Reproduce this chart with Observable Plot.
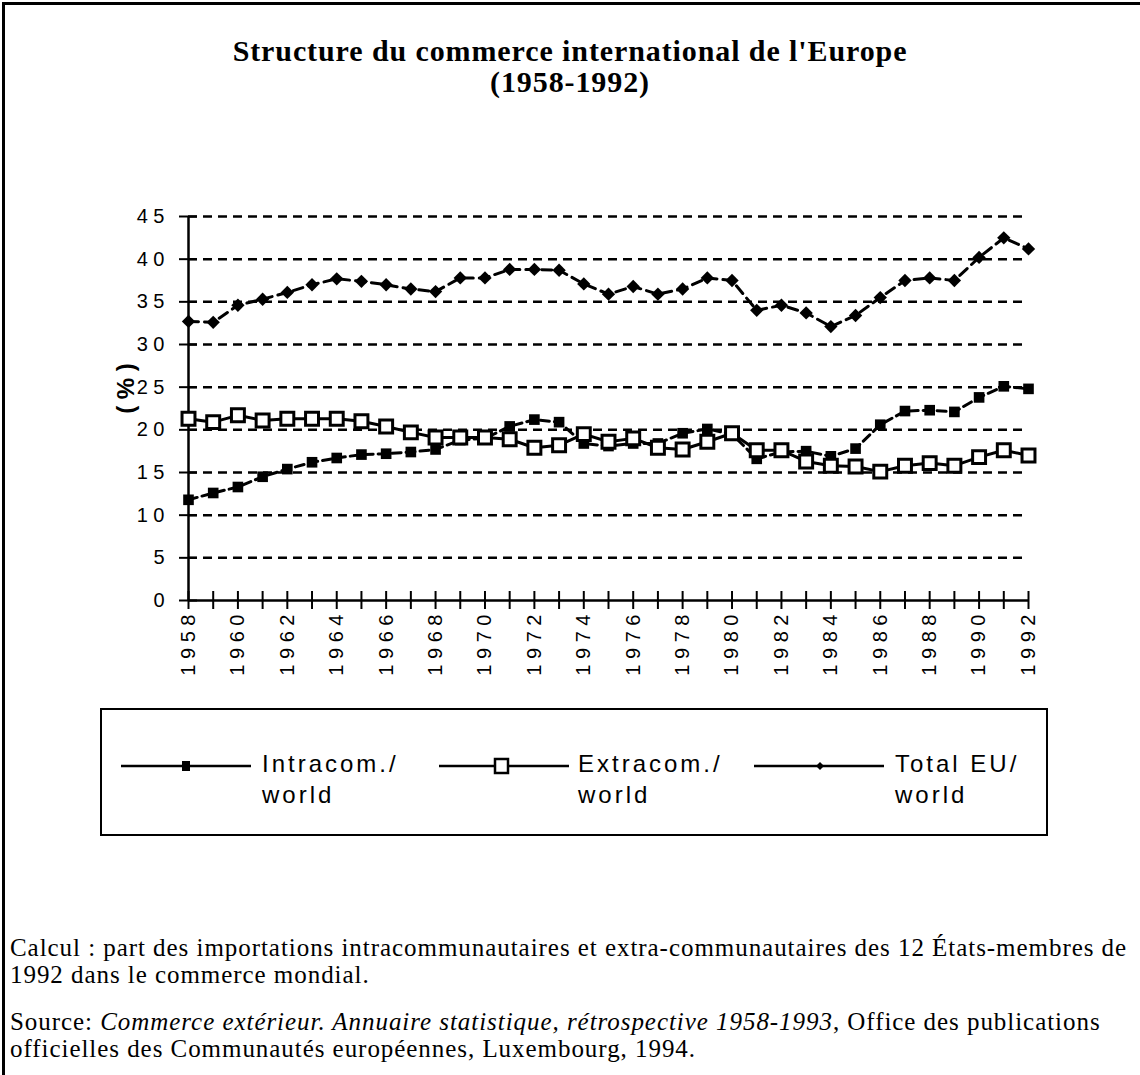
<!DOCTYPE html>
<html><head><meta charset="utf-8">
<script src="https://cdn.jsdelivr.net/npm/d3@7"></script>
<script src="https://cdn.jsdelivr.net/npm/@observablehq/plot@0.6"></script>
<style>
html,body{margin:0;padding:0;background:#fff;}
#page{position:relative;width:1140px;height:1075px;overflow:hidden;background:#fff;}
#frame{position:absolute;left:2px;top:2px;width:1300px;height:1300px;border-top:3px solid #000;border-left:3px solid #000;z-index:5;pointer-events:none;}
#title{position:absolute;left:0;top:35px;width:1140px;text-align:center;font:bold 30px/31px "Liberation Serif","Times New Roman",serif;letter-spacing:0.9px;color:#000;}
#chart{position:absolute;left:0;top:150px;}
#legend{position:absolute;left:100px;top:708px;width:948px;height:128px;border:2.5px solid #000;box-sizing:border-box;}
.lg{position:absolute;top:0;font:24px/31px "Liberation Sans",Arial,sans-serif;letter-spacing:3px;color:#000;}
.caption{position:absolute;left:10px;font:25px/27px "Liberation Serif","Times New Roman",serif;letter-spacing:0.95px;white-space:nowrap;color:#000;}
</style></head>
<body>
<div id="page">
  <div id="frame"></div>
  <div id="title">Structure du commerce international de l'Europe<br>(1958-1992)</div>
  <div id="chart"></div>
  <div id="legend"></div>
  <div class="caption" style="top:934px">Calcul : part des importations intracommunautaires et extra-communautaires des 12 États-membres de<br>1992 dans le commerce mondial.</div>
  <div class="caption" style="top:1008px">Source: <i>Commerce extérieur. Annuaire statistique, rétrospective 1958-1993</i>, Office des publications<br>officielles des Communautés européennes, Luxembourg, 1994.</div>
</div>
<script>
const years = [1958,1959,1960,1961,1962,1963,1964,1965,1966,1967,1968,1969,1970,1971,1972,1973,1974,1975,1976,1977,1978,1979,1980,1981,1982,1983,1984,1985,1986,1987,1988,1989,1990,1991,1992];
const labelYears = [1958,1960,1962,1964,1966,1968,1970,1972,1974,1976,1978,1980,1982,1984,1986,1988,1990,1992];
const yTicks = [0,5,10,15,20,25,30,35,40,45];

const intra = [11.8,12.6,13.3,14.5,15.4,16.2,16.7,17.1,17.2,17.4,17.7,18.8,19.0,20.4,21.2,20.9,18.4,18.1,18.4,18.4,19.6,20.1,19.5,16.6,17.4,17.5,16.9,17.8,20.6,22.2,22.3,22.1,23.8,25.1,24.8];
const extra = [21.3,20.9,21.7,21.1,21.3,21.3,21.3,21.0,20.4,19.7,19.1,19.1,19.1,18.9,17.9,18.2,19.5,18.6,19.0,17.9,17.7,18.6,19.6,17.6,17.6,16.3,15.8,15.7,15.1,15.8,16.1,15.8,16.8,17.6,17.0];
const total = [32.7,32.6,34.6,35.3,36.1,37.0,37.7,37.4,37.0,36.5,36.2,37.8,37.8,38.8,38.8,38.7,37.1,35.9,36.8,35.9,36.5,37.8,37.5,34.0,34.6,33.7,32.1,33.4,35.5,37.5,37.8,37.5,40.2,42.5,41.2];

const seriesNames = ["Intracom./ world","Extracom./ world","Total EU/ world"];
const legendLines = [["Intracom./","world"],["Extracom./","world"],["Total EU/","world"]];
const yTitle = "( % )";

const rows = (vals, s) => years.map((yr, i) => ({year: yr, value: vals[i], series: s}));
const intraRows = rows(intra, seriesNames[0]);
const extraRows = rows(extra, seriesNames[1]);
const totalRows = rows(total, seriesNames[2]);
const spaced = d => String(d).split("").join(" ");

const chart = Plot.plot({
  width: 1140, height: 550,
  marginLeft: 188, marginRight: 112, marginTop: 66, marginBottom: 100,
  x: {domain: [1958, 1992], axis: null, label: null},
  y: {domain: [0, 45], axis: null, label: null},
  style: {fontFamily: '"Liberation Sans", Arial, sans-serif', color: "#000", background: "transparent", overflow: "visible"},
  marks: [
    Plot.ruleY(yTicks.filter(d => d > 0), {stroke: "#000", strokeWidth: 2.5, strokeDasharray: "9,6"}),
    Plot.ruleX([years[0]], {stroke: "#000", strokeWidth: 2.5}),
    Plot.ruleY([0], {stroke: "#000", strokeWidth: 2.5}),
    Plot.axisY({ticks: yTicks, tickSize: 18, dx: 9, tickFormat: () => "", strokeWidth: 2, label: null}),
    Plot.axisY({ticks: yTicks, tickSize: 0, tickPadding: 24, fontSize: 20, tickFormat: spaced, label: null}),
    Plot.axisX({ticks: years, tickSize: 18, dy: -9, tickFormat: () => "", strokeWidth: 2, label: null}),
    Plot.axisX({ticks: labelYears, tickSize: 0, tickPadding: 14, tickRotate: -90, fontSize: 20, tickFormat: spaced, label: null}),
    Plot.text([yTitle], {frameAnchor: "left", textAnchor: "middle", dx: -62, dy: -20, rotate: -90, fontWeight: "bold", fontSize: 24}),
    Plot.line(intraRows, {x: "year", y: "value", stroke: "#000", strokeWidth: 3, strokeDasharray: "9,5"}),
    Plot.dot(intraRows, {x: "year", y: "value", symbol: "square", r: 6, fill: "#000"}),
    Plot.line(extraRows, {x: "year", y: "value", stroke: "#000", strokeWidth: 3}),
    Plot.dot(extraRows, {x: "year", y: "value", symbol: "square", r: 7.3, fill: "#fff", stroke: "#000", strokeWidth: 3}),
    Plot.line(totalRows, {x: "year", y: "value", stroke: "#000", strokeWidth: 3, strokeDasharray: "10,6"}),
    Plot.dot(totalRows, {x: "year", y: "value", symbol: "diamond2", r: 6, fill: "#000"})
  ]
});
document.getElementById("chart").appendChild(chart);

// legend
const legend = document.getElementById("legend");
const sampleX = [19, 337, 652];
const textX = [160, 476, 793];
const samples = [
  `<line x1="0" y1="10" x2="130" y2="10" stroke="#000" stroke-width="2.5"/><rect x="61" y="5" width="8" height="10" fill="#000"/>`,
  `<line x1="0" y1="10" x2="130" y2="10" stroke="#000" stroke-width="2.5"/><rect x="56" y="3" width="13" height="14" fill="#fff" stroke="#000" stroke-width="2.5"/>`,
  `<line x1="0" y1="10" x2="130" y2="10" stroke="#000" stroke-width="2.5"/><path d="M66,6L70,10L66,14L62,10Z" fill="#000"/>`
];
legendLines.forEach((lines, i) => {
  const s = document.createElement("div");
  s.style.cssText = `position:absolute;left:${sampleX[i]}px;top:46px;width:130px;height:20px;`;
  s.innerHTML = `<svg width="130" height="20">${samples[i]}</svg>`;
  legend.appendChild(s);
  const t = document.createElement("div");
  t.className = "lg";
  t.style.left = textX[i] + "px";
  t.style.top = "38px";
  t.innerHTML = lines.join("<br>");
  legend.appendChild(t);
});
</script>
</body></html>
